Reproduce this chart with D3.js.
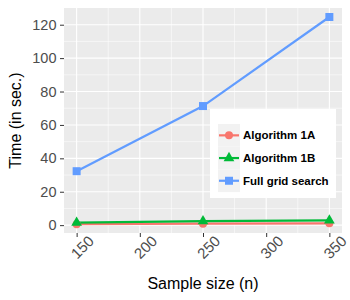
<!DOCTYPE html>
<html>
<head>
<meta charset="utf-8">
<script src="https://cdn.jsdelivr.net/npm/d3@7"></script>
<style>
  body { margin: 0; background: #fff; }
  svg { display: block; font-family: "Liberation Sans", Arial, sans-serif; }
</style>
</head>
<body>
<svg id="chart"></svg>
<script>
const sampleSizes = [150, 250, 350];
const algo1A = [0.6, 0.9, 1.1];
const algo1B = [1.5, 2.4, 2.8];
const fullGrid = [32.3, 71.3, 124.6];
const seriesNames = ["Algorithm 1A", "Algorithm 1B", "Full grid search"];
const seriesColors = ["#F8766D", "#00BA38", "#619CFF"];
const seriesShapes = [d3.symbolCircle, d3.symbolTriangle, d3.symbolSquare];
const xTicks = [150, 200, 250, 300, 350];
const yTicks = [0, 20, 40, 60, 80, 100, 120];

const width = 350;
const height = 300;
const panel = { left: 64, right: 342, top: 8, bottom: 233 };

const series = [algo1A, algo1B, fullGrid].map((vals, i) => ({
  name: seriesNames[i],
  color: seriesColors[i],
  shape: seriesShapes[i],
  points: vals.map((v, j) => ({ x: sampleSizes[j], y: v }))
}));

const svg = d3.select("#chart").attr("width", width).attr("height", height);

const xScale = d3.scaleLinear().domain([140, 360]).range([panel.left, panel.right]);
const yScale = d3.scaleLinear().domain([-4.7, 130]).range([panel.bottom, panel.top]);

// panel background
svg.append("rect")
  .attr("x", panel.left).attr("y", panel.top)
  .attr("width", panel.right - panel.left).attr("height", panel.bottom - panel.top)
  .attr("fill", "#EBEBEB");

const grid = svg.append("g");
// minor grid
const xMinor = xTicks.slice(0, -1).map((d) => d + 25);
const yMinor = yTicks.slice(0, -1).map((d) => d + 10);
grid.selectAll(".xminor").data(xMinor).enter().append("line")
  .attr("x1", (d) => xScale(d)).attr("x2", (d) => xScale(d))
  .attr("y1", panel.top).attr("y2", panel.bottom)
  .attr("stroke", "#fff").attr("stroke-width", 0.55);
grid.selectAll(".yminor").data(yMinor).enter().append("line")
  .attr("y1", (d) => yScale(d)).attr("y2", (d) => yScale(d))
  .attr("x1", panel.left).attr("x2", panel.right)
  .attr("stroke", "#fff").attr("stroke-width", 0.55);
// major grid
grid.selectAll(".xmajor").data(xTicks).enter().append("line")
  .attr("x1", (d) => xScale(d)).attr("x2", (d) => xScale(d))
  .attr("y1", panel.top).attr("y2", panel.bottom)
  .attr("stroke", "#fff").attr("stroke-width", 1.1);
grid.selectAll(".ymajor").data(yTicks).enter().append("line")
  .attr("y1", (d) => yScale(d)).attr("y2", (d) => yScale(d))
  .attr("x1", panel.left).attr("x2", panel.right)
  .attr("stroke", "#fff").attr("stroke-width", 1.1);

// axes
const xAxis = d3.axisBottom(xScale).tickValues(xTicks).tickSize(4).tickSizeOuter(0);
const yAxis = d3.axisLeft(yScale).tickValues(yTicks).tickSize(4).tickSizeOuter(0);

const gx = svg.append("g").attr("transform", `translate(0, ${panel.bottom})`).call(xAxis);
gx.select(".domain").remove();
gx.selectAll(".tick line").attr("stroke", "#333").attr("stroke-width", 1);
gx.selectAll(".tick text")
  .attr("fill", "#4D4D4D").attr("font-size", 15)
  .attr("text-anchor", "middle").attr("dy", null).attr("y", null)
  .attr("transform", "translate(5, 14) rotate(-45)")
  .attr("dominant-baseline", "central");

const gy = svg.append("g").attr("transform", `translate(${panel.left}, 0)`).call(yAxis);
gy.select(".domain").remove();
gy.selectAll(".tick line").attr("stroke", "#333").attr("stroke-width", 1);
gy.selectAll(".tick text")
  .attr("fill", "#4D4D4D").attr("font-size", 14.5).attr("x", -7.5);

// titles
svg.append("text")
  .attr("x", (panel.left + panel.right) / 2).attr("y", 289)
  .attr("text-anchor", "middle").attr("font-size", 16).attr("fill", "#000")
  .text("Sample size (n)");
svg.append("text")
  .attr("transform", `translate(21, ${(panel.top + panel.bottom) / 2}) rotate(-90)`)
  .attr("text-anchor", "middle").attr("font-size", 16).attr("fill", "#000")
  .text("Time (in sec.)");

// lines
const line = d3.line().x((d) => xScale(d.x)).y((d) => yScale(d.y));
svg.append("g").selectAll("path").data(series).enter().append("path")
  .attr("d", (d) => line(d.points))
  .attr("fill", "none").attr("stroke", (d) => d.color).attr("stroke-width", 2.2);

// points
const symbolSizes = [50, 50, 64];
series.forEach((s, i) => {
  svg.append("g").selectAll("path").data(s.points).enter().append("path")
    .attr("transform", (d) => `translate(${xScale(d.x)}, ${yScale(d.y)})`)
    .attr("d", d3.symbol().type(s.shape).size(symbolSizes[i]))
    .attr("fill", s.color);
});

// legend
const legend = svg.append("g");
legend.append("rect")
  .attr("x", 210).attr("y", 109).attr("width", 126).attr("height", 89)
  .attr("fill", "#fff");
const keyH = 22.7;
const keys = legend.selectAll(".key").data(series).enter().append("g")
  .attr("transform", (d, i) => `translate(218, ${124 + i * keyH})`);
keys.append("rect").attr("width", 22).attr("height", keyH).attr("fill", "#F2F2F2");
keys.append("line")
  .attr("x1", 1).attr("x2", 21).attr("y1", keyH / 2).attr("y2", keyH / 2)
  .attr("stroke", (d) => d.color).attr("stroke-width", 2.2);
keys.append("path")
  .attr("transform", `translate(11, ${keyH / 2})`)
  .attr("d", (d, i) => d3.symbol().type(d.shape).size(symbolSizes[i])())
  .attr("fill", (d) => d.color);
keys.append("text")
  .attr("x", 25).attr("y", keyH / 2).attr("dy", "0.35em")
  .attr("font-size", 11.5).attr("font-weight", "bold").attr("fill", "#000")
  .text((d) => d.name);
</script>
</body>
</html>
